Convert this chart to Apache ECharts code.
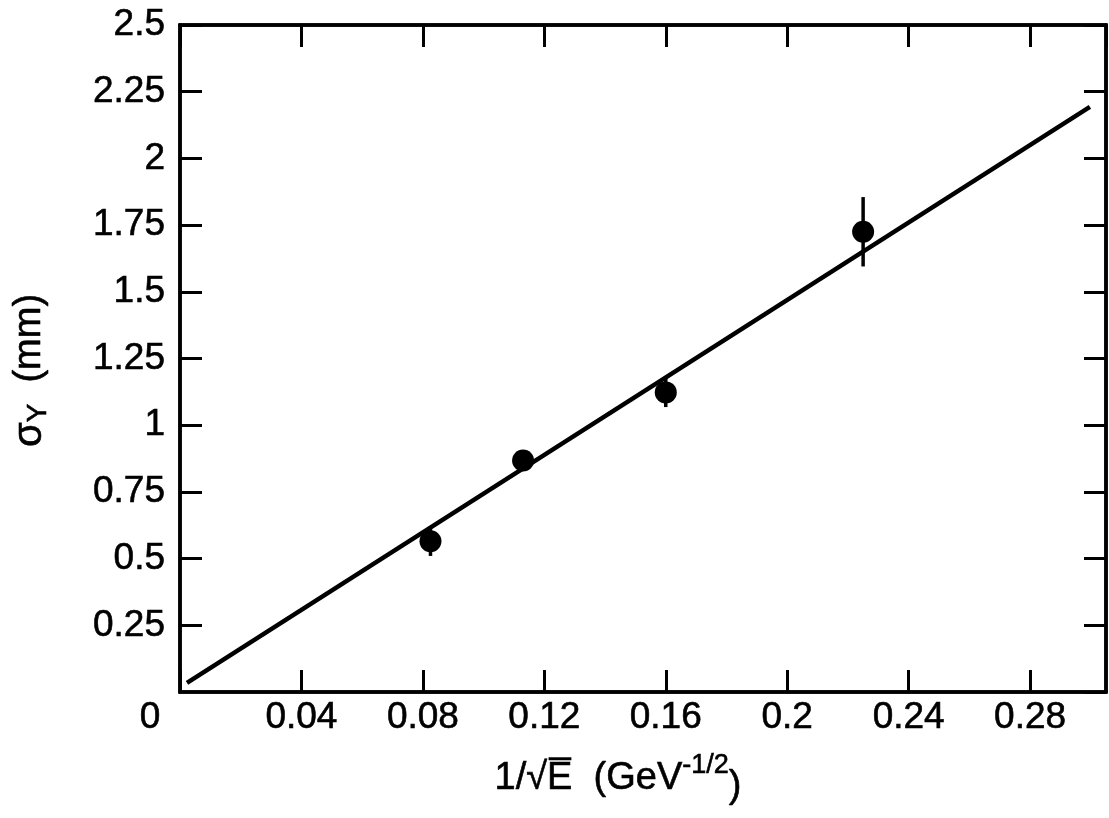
<!DOCTYPE html>
<html>
<head>
<meta charset="utf-8">
<script src="https://cdn.jsdelivr.net/npm/echarts@6/dist/echarts.min.js"></script>
<style>html,body{margin:0;padding:0;background:#fff;}#c{width:1109px;height:818px;}</style>
</head>
<body>
<div id="c"></div>
<script>
// Data
var pointX = [0.0825, 0.113, 0.160, 0.225];
var pointY = [0.565, 0.868, 1.123, 1.725];
var pointErr = [0.055, 0.03, 0.055, 0.13];
var fitX = [0.0023, 0.2997];
var fitY = [0.034, 2.193];
var xTicks = [0.04, 0.08, 0.12, 0.16, 0.2, 0.24, 0.28];
var yTicks = [0.25, 0.5, 0.75, 1, 1.25, 1.5, 1.75, 2, 2.25, 2.5];

var FONT = "'Liberation Sans', Arial, Helvetica, sans-serif";
var FS = 37;
var points = pointX.map(function (x, i) { return [x, pointY[i]]; });
var errData = pointX.map(function (x, i) { return [x, pointY[i] - pointErr[i], pointY[i] + pointErr[i]]; });
var fitData = fitX.map(function (x, i) { return [x, fitY[i]]; });

function fmtX(v) {
  if (Math.abs(v) < 1e-9) return '{o|0}';
  for (var i = 0; i < xTicks.length; i++) if (Math.abs(v - xTicks[i]) < 1e-9) return String(xTicks[i]);
  return '';
}
function fmtY(v) {
  for (var i = 0; i < yTicks.length; i++) if (Math.abs(v - yTicks[i]) < 1e-9) return String(yTicks[i]);
  return '';
}
function tickStyle() { return {show: true, inside: true, length: 22, lineStyle: {color: '#000', width: 3}}; }
function axisLineStyle() { return {show: true, onZero: false, lineStyle: {color: '#000', width: 3.5}}; }
function ts(size, extra) {
  var o = {fontSize: size, fontFamily: FONT, color: '#000', textBorderColor: '#000', textBorderWidth: 0.6};
  if (extra) for (var k in extra) o[k] = extra[k];
  return o;
}

var chart = echarts.init(document.getElementById('c'), null, {renderer: 'canvas'});
chart.setOption({
  animation: false,
  backgroundColor: '#fff',
  grid: {left: 180, right: 3, top: 25, bottom: 126, show: true, borderColor: '#000', borderWidth: 3.5, backgroundColor: 'transparent'},
  xAxis: [{
    type: 'value', min: 0, max: 0.305, interval: 0.04, position: 'bottom',
    axisLine: axisLineStyle(),
    axisTick: tickStyle(),
    splitLine: {show: false},
    axisLabel: ts(FS, {
      show: true, margin: 7, showMaxLabel: false, formatter: fmtX,
      rich: {o: ts(FS, {padding: [0, 60, 0, 0]})}
    }),
    name: '{a|1/√}{e|E̅}{b|  (GeV}{sup|-1/2}{c|)}',
    nameLocation: 'middle', nameGap: 60,
    nameTextStyle: ts(FS, {
      padding: [0, 50, 0, 0],
      rich: {
        a: ts(38), e: ts(38), b: ts(38),
        sup: ts(27, {verticalAlign: 'top', padding: [0, 0, 16, 0]}),
        c: ts(38, {padding: [16, 0, 0, 0]})
      }
    })
  }, {
    type: 'value', min: 0, max: 0.305, interval: 0.04, position: 'top',
    axisLine: axisLineStyle(),
    axisTick: tickStyle(), axisLabel: {show: false}, splitLine: {show: false}
  }],
  yAxis: [{
    type: 'value', min: 0, max: 2.5, interval: 0.25, position: 'left',
    axisLine: axisLineStyle(),
    axisTick: tickStyle(),
    splitLine: {show: false},
    axisLabel: ts(FS, {show: true, margin: 15, showMinLabel: false, formatter: fmtY}),
    name: '{s|σ}{sub|Y}{n|  (mm)}',
    nameLocation: 'middle', nameRotate: 90, nameGap: 128,
    nameTextStyle: ts(FS, {
      padding: [0, 24, 0, 0],
      rich: {
        s: ts(40),
        sub: ts(28, {verticalAlign: 'bottom', padding: [16, 0, 0, 0]}),
        n: ts(38)
      }
    })
  }, {
    type: 'value', min: 0, max: 2.5, interval: 0.25, position: 'right',
    axisLine: axisLineStyle(),
    axisTick: tickStyle(), axisLabel: {show: false}, splitLine: {show: false}
  }],
  series: [{
    type: 'line', data: fitData, symbol: 'none', xAxisIndex: 0, yAxisIndex: 0,
    lineStyle: {color: '#000', width: 4.5}, z: 2
  }, {
    type: 'custom', data: errData, xAxisIndex: 0, yAxisIndex: 0, z: 3,
    renderItem: function (params, api) {
      var lo = api.coord([api.value(0), api.value(1)]);
      var hi = api.coord([api.value(0), api.value(2)]);
      return {type: 'line', shape: {x1: lo[0], y1: lo[1], x2: hi[0], y2: hi[1]}, style: {stroke: '#000', lineWidth: 3.5}};
    }
  }, {
    type: 'scatter', data: points, symbol: 'circle', symbolSize: 22, xAxisIndex: 0, yAxisIndex: 0,
    itemStyle: {color: '#000', opacity: 1}, z: 4
  }]
});
</script>
</body>
</html>
